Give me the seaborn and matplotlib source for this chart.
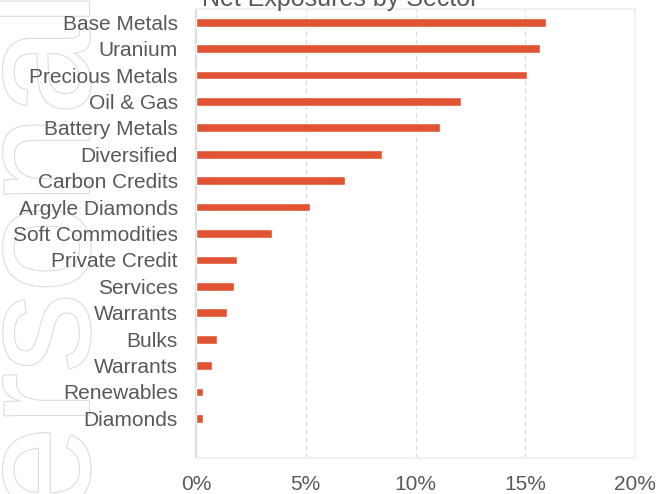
import matplotlib
matplotlib.use("Agg")
import matplotlib.pyplot as plt
import matplotlib.patheffects as pe
from matplotlib.ticker import PercentFormatter
import seaborn as sns
import pandas as pd

# data (net exposure, % of portfolio)
sectors = ["Base Metals", "Uranium", "Precious Metals", "Oil & Gas",
           "Battery Metals", "Diversified", "Carbon Credits", "Argyle Diamonds",
           "Soft Commodities", "Private Credit", "Services", "Warrants",
           "Bulks", "Warrants", "Renewables", "Diamonds"]
exposure = [15.93, 15.69, 15.1, 12.06, 11.1, 8.47, 6.8, 5.19,
            3.46, 1.88, 1.75, 1.40, 0.97, 0.74, 0.33, 0.30]
x_ticks = [0, 5, 10, 15, 20]

BAR = "#e05433"
TEXT = "#595959"

sns.set_theme(style="white")
plt.rcParams["font.family"] = ["Liberation Sans", "DejaVu Sans"]

# duplicate labels ("Warrants"), so plot on position and relabel
df = pd.DataFrame({"pos": range(len(sectors)), "exposure": exposure})

fig = plt.figure(figsize=(6.57, 4.94), dpi=100)
ax = fig.add_axes([196 / 657, 36 / 494, 439 / 657, 449 / 494])

# watermark in the left margin
fig.text(89 / 657, 503 / 494, "Personal", rotation=90, rotation_mode="anchor",
         ha="right", va="baseline", fontsize=115, color="white", zorder=-1,
         path_effects=[pe.withStroke(linewidth=1.6, foreground="#dcdcdc")])

sns.barplot(data=df, x="exposure", y="pos", orient="h", color=BAR,
            width=0.33, saturation=1, ax=ax, zorder=3)

ax.set_ylim(16.5, -0.5)
ax.set_xlim(0, 20)
ax.set_yticks(range(len(sectors)), labels=sectors)
ax.set_xticks(x_ticks)
ax.xaxis.set_major_formatter(PercentFormatter(decimals=0))
ax.set_xlabel("")
ax.set_ylabel("")
ax.tick_params(axis="both", length=0, labelsize=15, colors=TEXT)
ax.tick_params(axis="y", pad=13)
ax.tick_params(axis="x", pad=12)

ax.xaxis.grid(True, color="#d9d9d9", linewidth=0.8, linestyle=(0, (4.5, 2.8)))
ax.set_axisbelow(True)

for side in ["top", "right", "bottom"]:
    ax.spines[side].set_color("#efefef")
    ax.spines[side].set_linewidth(1.2)
ax.spines["left"].set_color("#d9d9d9")
ax.spines["left"].set_linewidth(1.2)

fig.text(340 / 657, 488 / 494, "Net Exposures by Sector", ha="center",
         va="baseline", fontsize=18, color=TEXT)

fig.savefig("out.png", dpi=100)
